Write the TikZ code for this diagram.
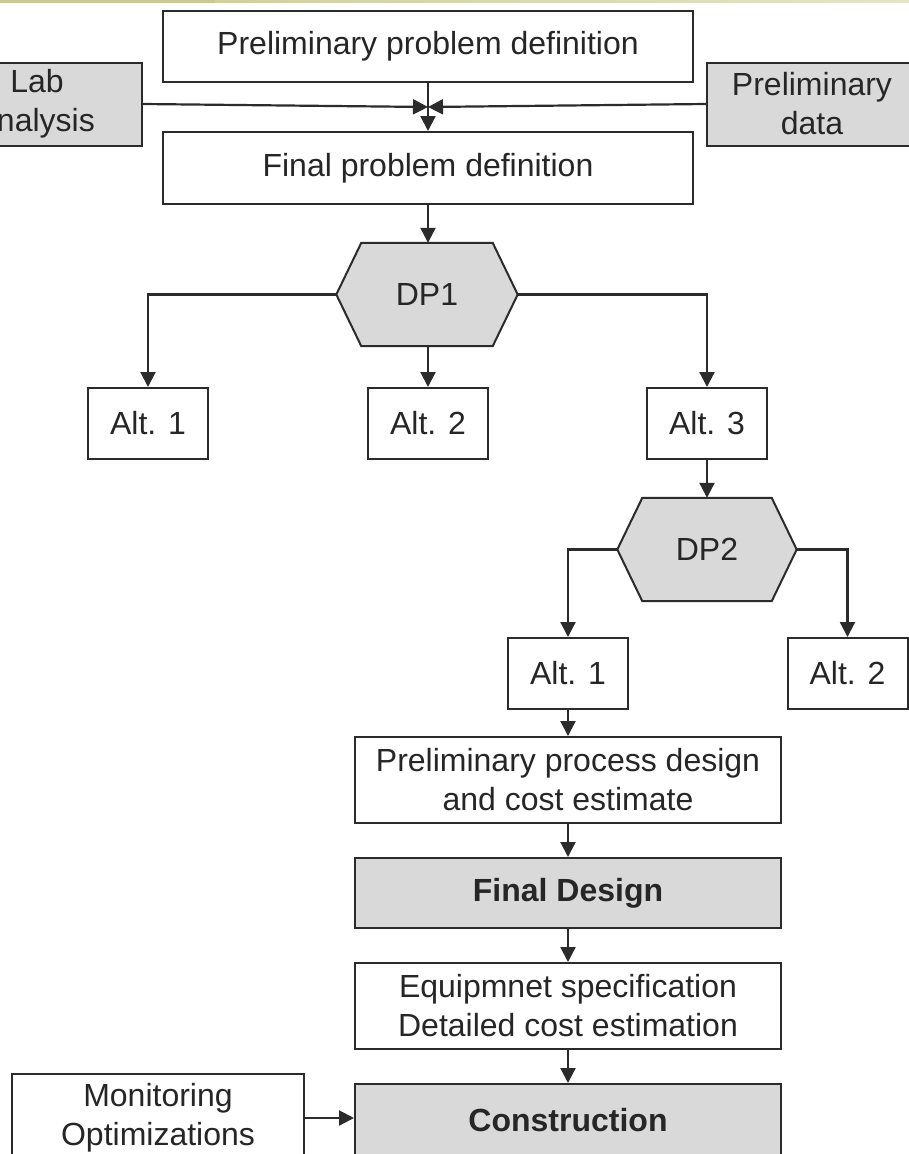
\documentclass[tikz,border=0pt]{standalone}
\usepackage{fontspec}
\setmainfont{Liberation Sans}
\usetikzlibrary{arrows.meta,backgrounds}
\definecolor{ln}{HTML}{2B2B2B}
\definecolor{tx}{HTML}{262626}
\definecolor{gfill}{HTML}{D9D9D9}
\definecolor{olive1}{HTML}{C9C995}
\definecolor{olive2}{HTML}{E4E4C8}
\begin{document}
\begin{tikzpicture}[x=1pt,y=-1pt,
  every node/.style={text=tx,font=\fontsize{32}{39}\selectfont},
  box/.style={draw=ln,line width=2pt,fill=white,rectangle,align=center,inner sep=0pt},
  gbox/.style={box,fill=gfill},
  hexnode/.style={rectangle,inner sep=0pt,minimum width=181pt,minimum height=103pt},
  hexshape/.style={draw=ln,line width=2pt,fill=gfill,line join=miter},
  conn/.style={draw=ln,line width=2.2pt},
  arr/.style={conn,-{Triangle[length=15pt,width=15pt]}}]
\useasboundingbox (0,0) rectangle (909,1154);
% top strip
\shade[left color=olive1,right color=olive2] (0,0) rectangle (909,2.5);
\fill[olive1] (0,0) rectangle (215,3.2);

% nodes
\node[box,minimum width=530pt,minimum height=71pt] (top) at (428,46.5) {Preliminary problem definition};
\node[gbox,minimum width=210pt,minimum height=83pt] (lab) at (37,104) {Lab\\analysis};
\node[gbox,minimum width=210pt,minimum height=83pt] (pdata) at (812,104) {Preliminary\\data};
\node[box,minimum width=530pt,minimum height=72pt] (final) at (428,168) {Final problem definition};
\coordinate (meet) at (428,107);

\node[hexnode] (dp1) at (427,294.5) {DP1};
\node[box,minimum width=120pt,minimum height=71pt] (a1) at (148,423.5) {Alt. 1};
\node[box,minimum width=120pt,minimum height=71pt] (a2) at (428,423.5) {Alt. 2};
\node[box,minimum width=120pt,minimum height=71pt] (a3) at (707,423.5) {Alt. 3};

\node[hexnode,minimum width=179pt] (dp2) at (707,549.5) {DP2};
\node[box,minimum width=120pt,minimum height=71pt] (b1) at (568,673.5) {Alt. 1};
\node[box,minimum width=120pt,minimum height=71pt] (b2) at (847.5,673.5) {Alt. 2};

\node[box,minimum width=426pt,minimum height=86pt] (ppd) at (568,780) {Preliminary process design\\and cost estimate};
\node[gbox,minimum width=426pt,minimum height=70pt,font=\fontsize{32}{39}\selectfont\bfseries] (fd) at (568,893) {Final Design};
\node[box,minimum width=426pt,minimum height=86pt] (eq) at (568,1006) {Equipmnet specification\\Detailed cost estimation};
\node[gbox,minimum width=426pt,minimum height=72pt,font=\fontsize{32}{39}\selectfont\bfseries] (con) at (568,1120) {Construction};
\node[box,minimum width=292pt,minimum height=88pt] (mon) at (158,1118) {Monitoring\\Optimizations};

% hexagons
\begin{scope}[on background layer]
\draw[hexshape] ([xshift=25pt]dp1.north west) -- ([xshift=-25pt]dp1.north east) -- (dp1.east)
  -- ([xshift=-25pt]dp1.south east) -- ([xshift=25pt]dp1.south west) -- (dp1.west) -- cycle;
\draw[hexshape] ([xshift=25pt]dp2.north west) -- ([xshift=-25pt]dp2.north east) -- (dp2.east)
  -- ([xshift=-25pt]dp2.south east) -- ([xshift=25pt]dp2.south west) -- (dp2.west) -- cycle;
\end{scope}

% connectors
\draw[arr] (top.south) -- (final.north);
\draw[arr] (lab.east) -- (meet);
\draw[arr] (pdata.west) -- (meet);
\draw[arr] (final.south) -- (final.south |- dp1.north);
\draw[arr] (dp1.west) -| (a1.north);
\draw[arr] (a2.north |- dp1.south) -- (a2.north);
\draw[arr] (dp1.east) -| (a3.north);
\draw[arr] (a3.south) -- (dp2.north);
\draw[arr] (dp2.west) -| (b1.north);
\draw[arr] (dp2.east) -| (b2.north);
\draw[arr] (b1.south) -- (ppd.north);
\draw[arr] (ppd.south) -- (fd.north);
\draw[arr] (fd.south) -- (eq.north);
\draw[arr] (eq.south) -- (con.north);
\draw[arr] (mon.east) -- (mon.east -| con.west);
\end{tikzpicture}
\end{document}
